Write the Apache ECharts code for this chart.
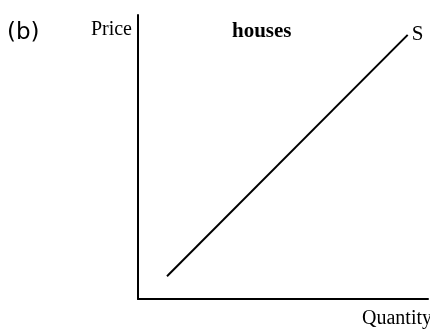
<!DOCTYPE html>
<html>
<head>
<meta charset="utf-8">
<script src="https://cdn.jsdelivr.net/npm/echarts@6/dist/echarts.min.js"></script>
<style>
  html, body { margin: 0; padding: 0; background: #fff; }
  #chart { width: 430px; height: 331px; }
</style>
</head>
<body>
<div id="chart"></div>
<script>
// supply curve, [quantity, price] on a 0-100 scale
const supplyQuantity = [10, 93]
const supplyPrice = [8, 93]
const panelLabel = '(b)'
const chartTitle = 'houses'
const curveName = 'S'

const serif = 'Liberation Serif'
const chart = echarts.init(document.getElementById('chart'))

const option = {
  animation: false,
  title: [
    {
      text: panelLabel,
      left: 7,
      top: 22,
      padding: 0,
      textStyle: { fontFamily: 'DejaVu Sans', fontSize: 23, fontWeight: 'normal', color: '#000' }
    },
    {
      text: chartTitle,
      left: 232,
      top: 21,
      padding: 0,
      textStyle: { fontFamily: serif, fontSize: 21, fontWeight: 'bold', color: '#000' }
    }
  ],
  grid: { left: 138, right: 2, top: 15, bottom: 32, containLabel: false, outerBoundsMode: 'none' },
  xAxis: {
    type: 'value',
    min: 0,
    max: 100,
    name: 'Quantity',
    nameLocation: 'end',
    nameGap: 4,
    nameTextStyle: {
      fontFamily: serif, fontSize: 20, color: '#000',
      align: 'right', verticalAlign: 'top', padding: [10, 0, 0, 0]
    },
    axisLine: { lineStyle: { color: '#000', width: 2 } },
    axisTick: { show: false },
    axisLabel: { show: false },
    splitLine: { show: false }
  },
  yAxis: {
    type: 'value',
    min: 0,
    max: 100,
    name: 'Price',
    nameLocation: 'end',
    nameGap: -15,
    nameTextStyle: {
      fontFamily: serif, fontSize: 20, color: '#000',
      align: 'right', verticalAlign: 'middle', padding: [0, 6, 0, 0]
    },
    axisLine: { lineStyle: { color: '#000', width: 2 } },
    axisTick: { show: false },
    axisLabel: { show: false },
    splitLine: { show: false }
  },
  series: [
    {
      type: 'line',
      name: curveName,
      data: supplyQuantity.map((q, i) => [q, supplyPrice[i]]),
      showSymbol: false,
      lineStyle: { color: '#000', width: 2 },
      endLabel: {
        show: true,
        formatter: curveName,
        distance: 4,
        fontFamily: serif,
        fontSize: 21,
        color: '#000'
      }
    }
  ]
}

chart.setOption(option)
</script>
</body>
</html>
